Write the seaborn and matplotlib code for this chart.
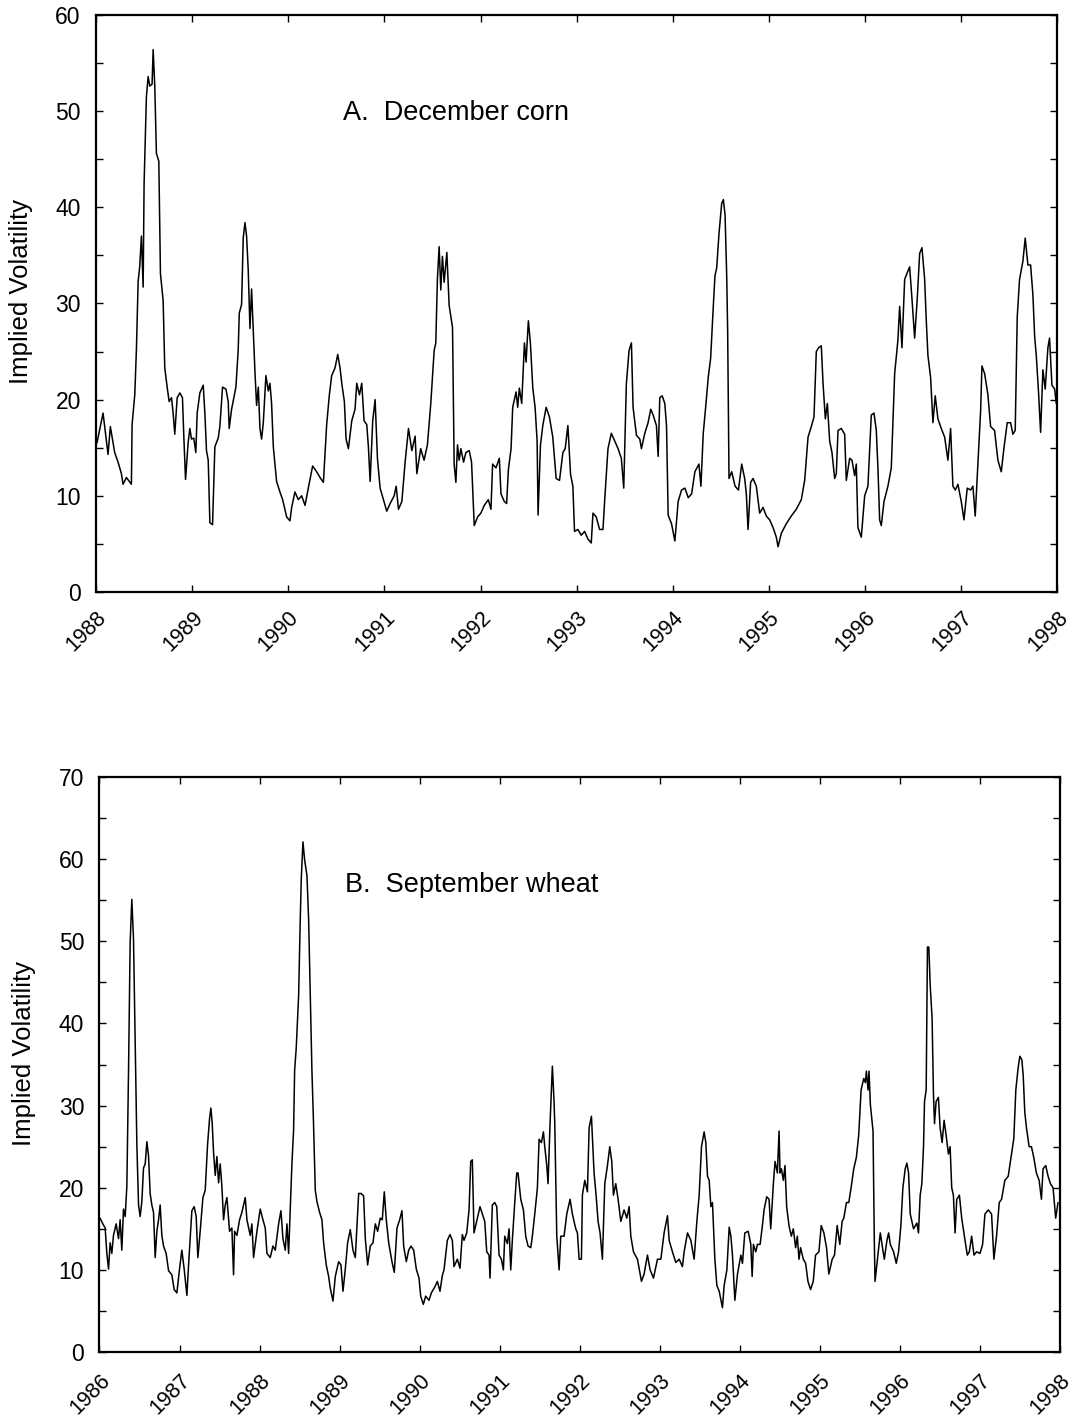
import matplotlib
matplotlib.use("Agg")
import matplotlib.pyplot as plt
import seaborn as sns
import pandas as pd
from matplotlib.ticker import MultipleLocator

# ---------------- data ----------------
corn_year = [1988.010,1988.073,1988.125,1988.149,1988.194,1988.229,1988.264,1988.281,1988.316,1988.368,
1988.375,1988.403,1988.420,1988.438,1988.455,1988.472,1988.490,1988.500,1988.524,1988.542,
1988.559,1988.583,1988.594,1988.611,1988.628,1988.653,1988.670,1988.698,1988.715,1988.740,
1988.760,1988.785,1988.802,1988.819,1988.844,1988.872,1988.899,1988.913,1988.931,1988.958,
1988.976,1988.993,1989.017,1989.038,1989.052,1989.080,1989.115,1989.132,1989.149,1989.167,
1989.184,1989.212,1989.236,1989.271,1989.288,1989.316,1989.351,1989.375,1989.385,1989.410,
1989.434,1989.455,1989.479,1989.490,1989.514,1989.531,1989.549,1989.566,1989.583,1989.601,
1989.618,1989.635,1989.653,1989.670,1989.688,1989.705,1989.722,1989.740,1989.767,1989.792,
1989.809,1989.826,1989.844,1989.878,1989.913,1989.941,1989.983,1990.017,1990.035,1990.069,
1990.104,1990.139,1990.174,1990.208,1990.253,1990.295,1990.330,1990.365,1990.399,1990.427,
1990.451,1990.486,1990.514,1990.538,1990.556,1990.583,1990.601,1990.625,1990.660,1990.694,
1990.712,1990.740,1990.764,1990.788,1990.816,1990.833,1990.851,1990.878,1990.903,1990.927,
1990.955,1990.990,1991.024,1991.059,1991.101,1991.122,1991.146,1991.181,1991.215,1991.250,
1991.285,1991.319,1991.337,1991.377,1991.412,1991.447,1991.482,1991.517,1991.534,1991.551,
1991.569,1991.586,1991.603,1991.621,1991.649,1991.673,1991.708,1991.725,1991.743,1991.760,
1991.777,1991.795,1991.823,1991.847,1991.882,1991.906,1991.934,1991.969,1992.003,1992.038,
1992.080,1992.108,1992.125,1992.160,1992.195,1992.212,1992.247,1992.271,1992.289,1992.317,
1992.334,1992.369,1992.386,1992.403,1992.428,1992.456,1992.473,1992.497,1992.518,1992.543,
1992.567,1992.588,1992.598,1992.623,1992.647,1992.682,1992.716,1992.751,1992.786,1992.821,
1992.856,1992.880,1992.908,1992.936,1992.960,1992.977,1993.012,1993.047,1993.082,1993.117,
1993.151,1993.169,1993.203,1993.238,1993.273,1993.290,1993.325,1993.360,1993.395,1993.430,
1993.464,1993.489,1993.516,1993.544,1993.569,1993.586,1993.621,1993.656,1993.673,1993.708,
1993.742,1993.770,1993.795,1993.829,1993.847,1993.864,1993.889,1993.916,1993.934,1993.951,
1993.986,1994.021,1994.055,1994.090,1994.125,1994.160,1994.195,1994.229,1994.271,1994.292,
1994.316,1994.341,1994.369,1994.393,1994.421,1994.438,1994.456,1994.480,1994.508,1994.525,
1994.543,1994.560,1994.570,1994.584,1994.612,1994.647,1994.682,1994.716,1994.747,1994.764,
1994.782,1994.809,1994.834,1994.868,1994.903,1994.938,1994.972,1995.007,1995.042,1995.076,
1995.094,1995.128,1995.180,1995.232,1995.284,1995.336,1995.371,1995.406,1995.440,1995.468,
1995.492,1995.516,1995.544,1995.562,1995.586,1995.607,1995.631,1995.655,1995.683,1995.700,
1995.718,1995.752,1995.787,1995.804,1995.839,1995.863,1995.891,1995.908,1995.925,1995.960,
1995.995,1996.029,1996.064,1996.092,1996.116,1996.133,1996.151,1996.168,1996.196,1996.237,
1996.272,1996.307,1996.341,1996.359,1996.383,1996.411,1996.438,1996.463,1996.487,1996.515,
1996.542,1996.567,1996.591,1996.619,1996.636,1996.653,1996.681,1996.705,1996.729,1996.757,
1996.792,1996.827,1996.861,1996.889,1996.913,1996.938,1996.965,1997.000,1997.028,1997.062,
1997.097,1997.121,1997.145,1997.173,1997.201,1997.215,1997.243,1997.277,1997.305,1997.346,
1997.381,1997.416,1997.443,1997.478,1997.513,1997.537,1997.561,1997.582,1997.606,1997.641,
1997.665,1997.693,1997.721,1997.745,1997.763,1997.780,1997.804,1997.825,1997.849,1997.873,
1997.901,1997.918,1997.943,1997.971,1997.988]
corn_iv = [15.5,18.6,14.3,17.2,14.5,13.5,12.3,11.2,11.9,11.2,
17.4,20.5,25.2,32.3,33.9,37.0,31.7,42.5,51.5,53.6,
52.6,52.8,56.4,52.6,45.6,44.8,33.1,30.3,23.3,21.3,
19.8,20.2,18.6,16.4,20.2,20.7,20.2,16.2,11.7,15.5,
17.0,15.9,16.0,14.5,18.6,20.7,21.5,18.6,14.7,13.7,
7.2,7.0,15.1,16.0,17.2,21.3,21.1,19.8,17.0,19.0,
20.2,21.3,25.2,29.0,29.9,36.8,38.4,37.0,33.5,27.4,
31.5,27.2,22.9,19.4,21.3,17.0,15.9,17.6,22.5,20.9,
21.7,19.6,15.1,11.5,10.4,9.6,7.8,7.4,8.8,10.4,
9.6,10.0,9.0,10.8,13.1,12.5,11.9,11.4,17.4,20.5,
22.5,23.3,24.7,23.3,21.7,19.8,15.9,14.9,17.8,19.0,
21.7,20.5,21.7,17.8,17.4,15.1,11.5,17.8,20.0,13.9,
10.8,9.6,8.4,9.2,10.0,11.0,8.6,9.4,13.5,17.0,
14.7,16.2,12.3,14.9,13.7,15.3,19.6,25.1,25.9,32.6,
35.9,31.4,34.9,32.2,35.3,29.8,27.5,13.3,11.4,15.3,
13.7,14.9,13.5,14.5,14.7,13.5,6.9,7.8,8.2,9.0,
9.6,8.6,13.3,12.9,13.9,10.2,9.4,9.2,12.7,14.9,
19.2,20.8,19.2,21.2,19.6,25.9,23.9,28.2,25.9,21.2,
19.2,15.7,8.0,15.3,17.3,19.2,18.2,16.1,11.8,11.6,
14.5,14.9,17.3,12.2,11.0,6.3,6.5,5.9,6.3,5.5,
5.1,8.2,7.8,6.5,6.5,9.4,14.9,16.5,15.7,14.9,
13.9,10.8,21.6,25.1,25.9,19.2,16.3,15.9,14.9,16.5,
17.6,19.0,18.4,17.3,14.1,20.2,20.4,19.6,17.3,8.0,
7.1,5.3,9.4,10.6,10.8,9.8,10.2,12.5,13.3,11.0,
16.5,19.2,22.4,24.3,29.8,32.9,33.7,37.3,40.4,40.8,
39.2,32.9,27.1,11.8,12.5,11.0,10.6,13.3,11.8,10.2,
6.5,11.4,11.8,11.0,8.2,8.8,7.9,7.5,6.7,5.7,
4.7,6.1,7.1,7.9,8.6,9.6,11.6,16.1,17.2,18.2,
25.0,25.4,25.6,21.7,18.0,19.6,15.7,14.5,11.8,12.3,
16.8,17.0,16.4,11.6,13.9,13.7,12.1,13.3,6.7,5.7,
10.0,11.0,18.4,18.6,16.8,12.9,7.5,6.9,9.4,11.0,
12.9,22.7,26.2,29.7,25.4,32.5,33.2,33.8,30.5,26.4,
30.5,35.2,35.8,32.5,28.2,24.6,22.3,17.6,20.4,18.0,
17.0,16.1,13.7,17.0,11.0,10.6,11.2,9.4,7.5,10.8,
10.6,11.0,7.9,13.3,18.8,23.5,22.7,20.5,17.2,16.8,
13.7,12.5,14.9,17.6,17.6,16.4,16.8,28.6,32.5,34.4,
36.8,34.0,34.0,30.9,26.6,24.6,20.7,16.6,23.1,21.1,
25.4,26.4,21.5,21.1,19.6]

wheat_year = [1986.008,1986.042,1986.071,1986.092,1986.113,1986.133,1986.154,1986.175,1986.208,1986.238,
1986.258,1986.279,1986.300,1986.321,1986.342,1986.363,1986.383,1986.404,1986.425,1986.446,
1986.467,1986.488,1986.508,1986.529,1986.550,1986.571,1986.592,1986.613,1986.633,1986.654,
1986.675,1986.696,1986.717,1986.738,1986.758,1986.779,1986.800,1986.833,1986.863,1986.904,
1986.933,1986.967,1987.000,1987.029,1987.058,1987.092,1987.113,1987.133,1987.154,1987.183,
1987.208,1987.229,1987.258,1987.292,1987.321,1987.350,1987.375,1987.392,1987.408,1987.425,
1987.446,1987.467,1987.488,1987.508,1987.529,1987.550,1987.571,1987.592,1987.625,1987.654,
1987.675,1987.688,1987.717,1987.750,1987.779,1987.821,1987.842,1987.883,1987.904,1987.925,
1987.967,1988.008,1988.042,1988.071,1988.092,1988.133,1988.167,1988.196,1988.238,1988.267,
1988.292,1988.321,1988.342,1988.363,1988.383,1988.404,1988.425,1988.438,1988.458,1988.488,
1988.508,1988.521,1988.542,1988.563,1988.592,1988.613,1988.633,1988.654,1988.675,1988.696,
1988.717,1988.750,1988.779,1988.800,1988.833,1988.863,1988.883,1988.917,1988.946,1988.988,
1989.017,1989.042,1989.071,1989.100,1989.133,1989.167,1989.196,1989.238,1989.267,1989.300,
1989.321,1989.350,1989.383,1989.417,1989.446,1989.475,1989.508,1989.533,1989.558,1989.583,
1989.613,1989.654,1989.683,1989.717,1989.750,1989.779,1989.800,1989.833,1989.863,1989.892,
1989.925,1989.958,1989.992,1990.013,1990.046,1990.075,1990.117,1990.146,1990.188,1990.221,
1990.254,1990.283,1990.304,1990.346,1990.379,1990.408,1990.429,1990.471,1990.504,1990.533,
1990.554,1990.588,1990.617,1990.638,1990.658,1990.679,1990.721,1990.754,1990.783,1990.813,
1990.838,1990.867,1990.879,1990.908,1990.938,1990.963,1990.992,1991.021,1991.046,1991.063,
1991.096,1991.117,1991.138,1991.158,1991.188,1991.213,1991.229,1991.263,1991.296,1991.325,
1991.354,1991.388,1991.408,1991.438,1991.471,1991.492,1991.521,1991.546,1991.563,1991.588,
1991.604,1991.629,1991.646,1991.658,1991.679,1991.688,1991.713,1991.742,1991.763,1991.804,
1991.838,1991.879,1991.908,1991.950,1991.971,1991.992,1992.021,1992.033,1992.063,1992.096,
1992.117,1992.146,1992.179,1992.204,1992.229,1992.254,1992.283,1992.313,1992.346,1992.375,
1992.400,1992.421,1992.450,1992.479,1992.513,1992.554,1992.588,1992.617,1992.638,1992.671,
1992.721,1992.771,1992.804,1992.846,1992.879,1992.921,1992.971,1993.013,1993.054,1993.096,
1993.117,1993.158,1993.200,1993.242,1993.283,1993.304,1993.346,1993.388,1993.429,1993.463,
1993.492,1993.521,1993.554,1993.575,1993.596,1993.617,1993.638,1993.658,1993.688,1993.713,
1993.742,1993.783,1993.804,1993.838,1993.867,1993.888,1993.908,1993.938,1993.971,1994.013,
1994.033,1994.062,1994.104,1994.137,1994.154,1994.170,1994.199,1994.220,1994.253,1994.282,
1994.303,1994.336,1994.365,1994.386,1994.419,1994.440,1994.469,1994.490,1994.502,1994.519,
1994.544,1994.564,1994.585,1994.614,1994.643,1994.668,1994.697,1994.718,1994.739,1994.759,
1994.793,1994.822,1994.851,1994.884,1994.917,1994.946,1994.988,1995.017,1995.050,1995.083,
1995.112,1995.154,1995.183,1995.216,1995.249,1995.278,1995.299,1995.332,1995.361,1995.390,
1995.423,1995.456,1995.485,1995.515,1995.548,1995.568,1995.581,1995.602,1995.614,1995.631,
1995.664,1995.680,1995.689,1995.714,1995.755,1995.776,1995.805,1995.838,1995.859,1995.880,
1995.921,1995.954,1995.983,1996.012,1996.037,1996.066,1996.087,1996.108,1996.129,1996.170,
1996.212,1996.232,1996.253,1996.274,1996.295,1996.307,1996.328,1996.344,1996.361,1996.378,
1996.402,1996.419,1996.432,1996.452,1996.481,1996.502,1996.527,1996.552,1996.577,1996.606,
1996.627,1996.647,1996.668,1996.689,1996.710,1996.743,1996.772,1996.813,1996.842,1996.867,
1996.896,1996.925,1996.959,1997.000,1997.033,1997.062,1997.104,1997.145,1997.174,1997.207,
1997.241,1997.270,1997.311,1997.353,1997.394,1997.423,1997.448,1997.477,1997.498,1997.523,
1997.540,1997.560,1997.581,1997.614,1997.643,1997.672,1997.705,1997.739,1997.768,1997.788,
1997.822,1997.851,1997.880,1997.913,1997.946,1997.975]
wheat_iv = [16.3,15.6,15.1,12.0,10.1,13.3,12.0,14.2,15.6,13.8,
16.1,12.4,17.4,16.5,20.2,34.3,49.8,55.1,50.3,38.0,
25.2,17.9,16.5,18.3,22.4,22.9,25.6,23.8,19.3,17.9,
17.0,11.5,14.7,16.1,17.9,14.2,12.9,12.0,9.9,9.4,
7.6,7.2,10.1,12.4,10.1,6.9,10.6,13.8,17.2,17.7,
16.5,11.5,14.7,18.8,19.7,25.2,28.4,29.7,27.9,24.3,
21.5,23.8,20.6,22.9,20.2,16.1,17.9,18.8,14.7,15.1,
9.4,14.7,14.2,16.1,17.0,18.8,16.1,14.2,15.6,11.5,
14.7,17.4,16.1,15.1,12.0,11.5,12.9,12.4,15.6,17.2,
13.8,12.4,15.6,12.0,17.4,22.9,27.0,34.3,37.0,43.4,
52.6,57.6,62.1,59.9,58.0,52.6,43.4,34.3,27.5,19.7,
18.3,17.0,16.1,13.3,10.6,9.2,7.8,6.2,9.2,11.0,
10.6,7.4,10.1,13.3,14.9,12.4,11.5,19.3,19.3,19.0,
13.8,10.6,12.9,13.3,15.6,14.7,16.3,16.1,19.5,16.1,
13.3,11.0,9.7,15.1,16.1,17.2,12.9,11.0,12.4,12.9,
12.4,10.1,9.0,6.8,5.8,6.8,6.3,7.2,7.9,8.6,
7.4,9.3,10.0,13.6,14.3,13.6,10.4,11.3,10.2,14.3,
13.6,14.5,17.3,23.2,23.4,14.5,16.3,17.7,16.8,15.9,
12.2,11.8,9.0,17.9,18.2,17.7,11.8,11.3,10.0,14.1,
13.2,15.0,10.0,13.6,18.2,21.8,21.8,18.6,17.3,14.1,
12.9,12.7,14.1,16.8,20.0,25.9,25.5,26.8,25.0,22.7,
20.5,27.8,31.9,34.8,30.5,27.8,14.1,10.0,14.1,14.1,
16.8,18.6,16.8,15.0,14.5,11.3,11.3,19.1,20.9,19.5,
27.3,28.7,21.8,19.1,15.9,14.5,11.3,20.5,22.7,25.0,
23.2,19.1,20.5,18.6,15.9,17.3,16.3,17.7,14.1,12.2,
11.3,8.6,9.5,11.8,10.0,9.0,11.3,11.3,14.5,16.6,
13.6,12.2,10.9,11.3,10.4,12.2,14.5,13.6,11.3,15.9,
19.1,25.0,26.8,25.5,21.4,20.9,17.7,18.2,11.3,8.1,
7.4,5.4,8.1,10.0,15.2,14.1,11.8,6.3,9.5,11.8,
10.8,14.5,14.7,13.1,9.2,13.1,12.2,13.1,13.1,15.4,
17.3,18.9,18.6,15.0,20.5,23.2,21.8,26.9,21.8,22.3,
20.9,22.7,17.7,15.4,14.1,15.0,12.7,14.1,11.3,12.7,
11.3,10.8,8.6,7.6,8.6,11.8,12.2,15.4,14.5,12.7,
9.5,11.3,11.8,15.4,13.1,15.9,16.3,18.2,18.2,20.0,
22.3,23.7,26.4,31.9,33.3,32.8,34.2,31.9,34.2,30.1,
26.9,13.6,8.6,10.8,14.5,13.1,11.3,13.6,14.5,13.1,
12.2,10.8,12.2,15.4,20.0,22.3,23.0,21.8,16.8,15.0,
15.7,14.5,19.1,20.5,25.0,30.5,31.9,49.3,49.3,44.7,
40.6,31.4,27.8,30.5,31.0,27.3,25.5,28.2,26.4,24.1,
25.0,20.0,19.1,14.5,18.6,19.1,16.3,13.6,11.8,12.2,
14.1,11.8,12.2,12.0,13.1,16.8,17.3,16.8,11.3,14.1,
18.2,18.6,20.9,21.4,24.1,26.0,31.9,34.6,36.0,35.6,
33.7,29.2,27.3,25.0,25.0,23.7,21.8,20.9,18.6,22.3,
22.7,21.4,20.5,20.0,16.3,18.2]

corn_years = list(range(1988, 1999))
wheat_years = list(range(1986, 1999))

# ---------------- style ----------------
sns.set_theme(style="ticks")
plt.rcParams['font.family'] = ['Liberation Sans', 'DejaVu Sans']
plt.rcParams['text.color'] = 'black'
plt.rcParams['axes.labelcolor'] = 'black'
plt.rcParams['xtick.color'] = 'black'
plt.rcParams['ytick.color'] = 'black'

fig = plt.figure(figsize=(10.79, 14.22), dpi=100)
axA = fig.add_axes([0.089, 0.5837, 0.891, 0.4058])
axB = fig.add_axes([0.0922, 0.0492, 0.8902, 0.4044])

dfA = pd.DataFrame({"year": corn_year, "iv": corn_iv})
dfB = pd.DataFrame({"year": wheat_year, "iv": wheat_iv})

sns.lineplot(data=dfA, x="year", y="iv", ax=axA, color="black", linewidth=1.1, estimator=None)
sns.lineplot(data=dfB, x="year", y="iv", ax=axB, color="black", linewidth=1.1, estimator=None)


def style(ax, years, ymax, label_xy, text, xpad):
    ax.set_xlim(years[0], years[-1])
    ax.set_ylim(0, ymax)
    ax.set_xticks(years)
    ax.set_xticklabels([str(y) for y in years], rotation=45, ha="right", va="top",
                       rotation_mode="anchor", fontsize=15.5)
    ax.yaxis.set_major_locator(MultipleLocator(10))
    ax.yaxis.set_minor_locator(MultipleLocator(5))
    ax.tick_params(axis="y", labelsize=16.5, pad=11)
    ax.tick_params(which="both", direction="in", top=True, right=True, length=5, width=1, color="black")
    ax.tick_params(axis="x", pad=xpad)
    ax.set_xlabel("")
    ax.set_ylabel("Implied Volatility", fontsize=18.5)
    ax.yaxis.set_label_coords(-0.066, 0.52)
    for s in ax.spines.values():
        s.set_linewidth(1.6)
        s.set_color("black")
    ax.text(label_xy[0], label_xy[1], text, fontsize=19.5, ha="left", va="baseline")

style(axA, corn_years, 60, (1990.57, 49.1), "A.  December corn", 11)
style(axB, wheat_years, 70, (1989.07, 56.0), "B.  September wheat", 13)

fig.savefig("out.png", dpi=100)
